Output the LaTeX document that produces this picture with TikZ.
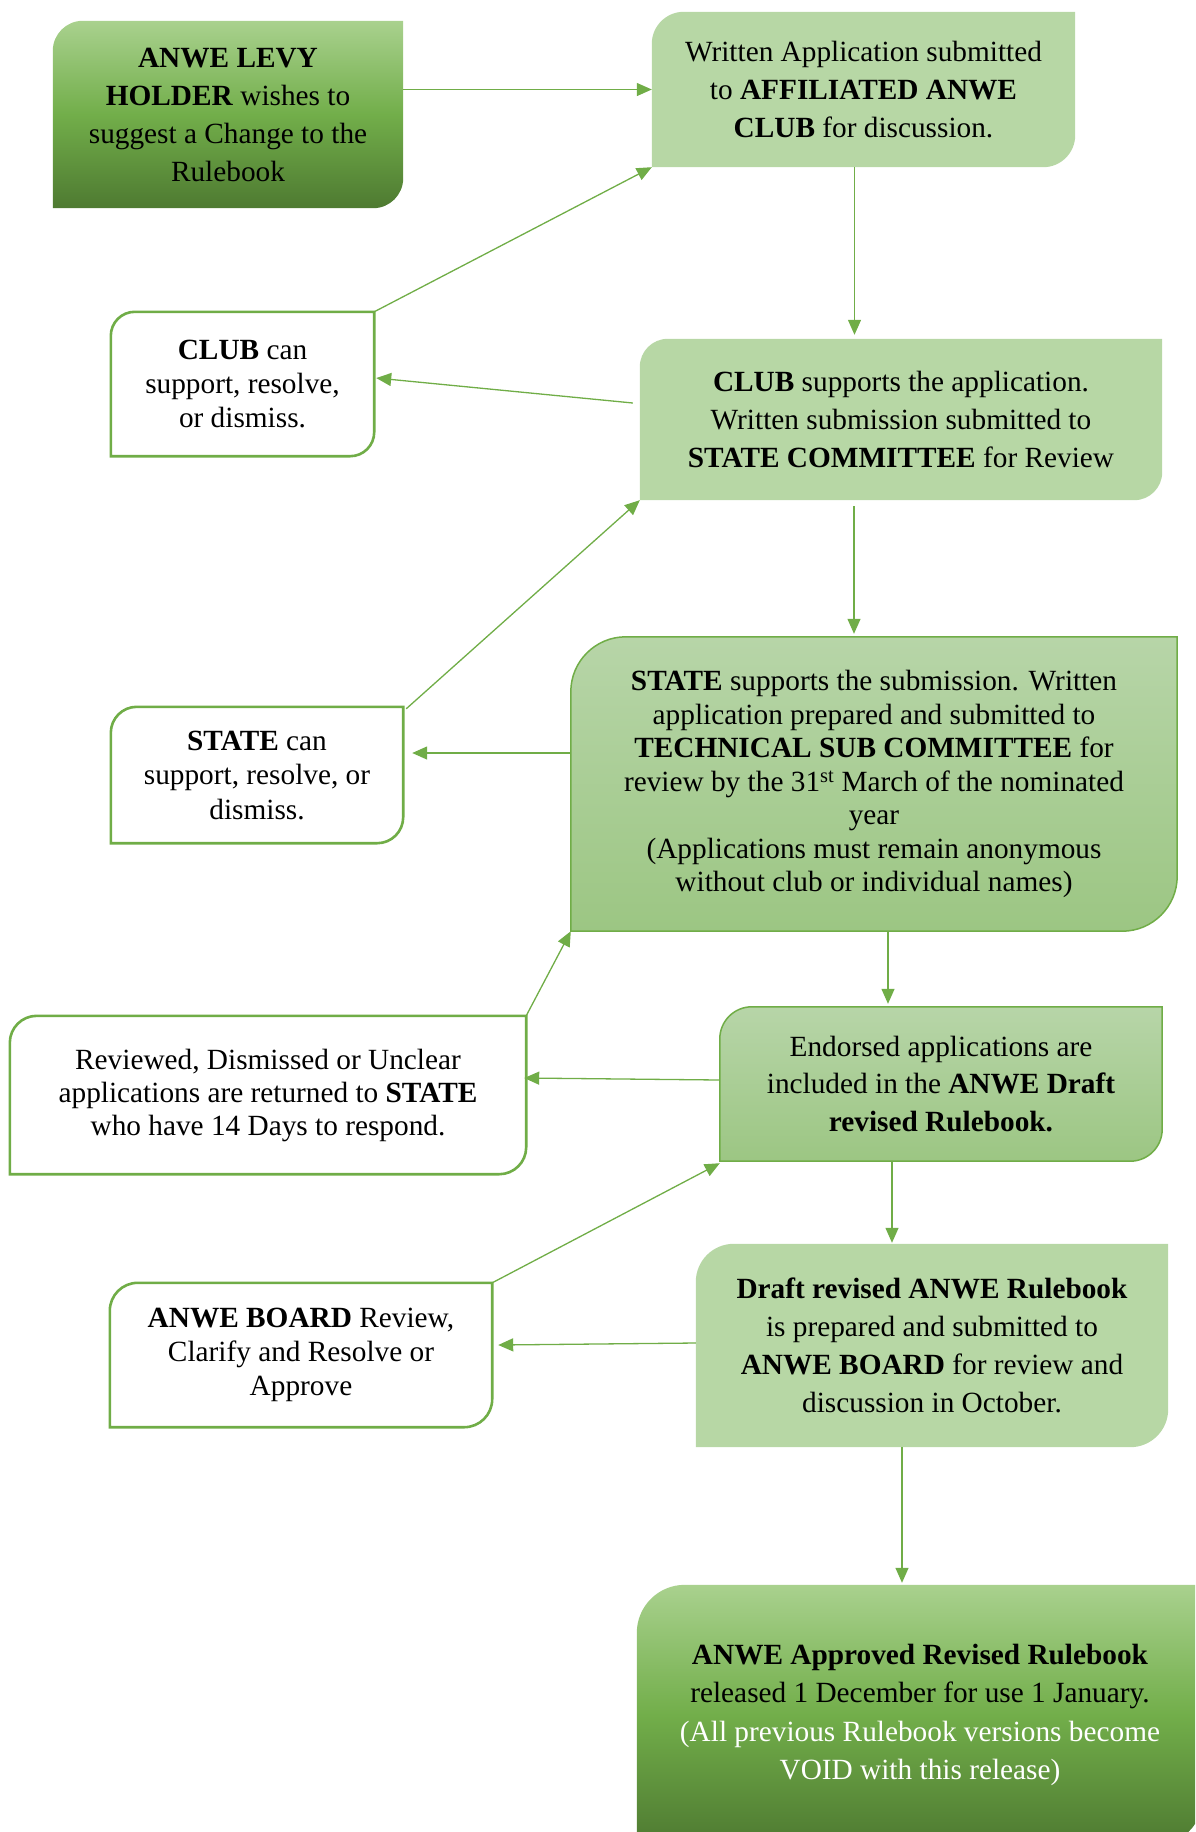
\documentclass[tikz,border=0pt]{standalone}
\usepackage{fontspec}
\setmainfont{Liberation Serif}
\usetikzlibrary{arrows.meta,calc,backgrounds}
\definecolor{ln}{HTML}{70AD47}
\definecolor{flat}{HTML}{B7D7A5}
\definecolor{dtop}{HTML}{A9D18E}
\definecolor{dmid}{HTML}{72AE4A}
\definecolor{dbot}{HTML}{4E7A31}
\definecolor{ltop}{HTML}{B7D5A8}
\definecolor{lbot}{HTML}{9CC683}
\newcommand\cutbox[3]{%
  \path[#3] ([yshift=-#2pt]#1.north west) arc[start angle=180,end angle=90,radius=#2pt]
    -- (#1.north east) -- ([yshift=#2pt]#1.south east)
    arc[start angle=0,end angle=-90,radius=#2pt] -- (#1.south west) -- cycle;}
\begin{document}
\begin{tikzpicture}[x=1pt,y=1pt,
  txt/.style={inner sep=0pt, align=center, font=\fontsize{29.3}{#1}\selectfont},
  darkg/.style={top color=dtop, bottom color=dbot, middle color=dmid},
  flatg/.style={fill=flat},
  lightg/.style={top color=ltop, bottom color=lbot, draw=ln, line width=1.5pt},
  wbox/.style={fill=white, draw=ln, line width=2.6pt},
  arr/.style={draw=ln, line width=1.3pt, -{Triangle[length=15pt,width=13pt]}}]
\useasboundingbox (0,0) rectangle (1195,-1832);

% nodes
\node[txt=38, minimum width=350pt, minimum height=187pt] (levy) at (228,-114.5)
  {\textbf{ANWE LEVY}\\ \textbf{HOLDER} wishes to\\ suggest a Change to the\\ Rulebook};
\node[txt=38, minimum width=423pt, minimum height=155pt] (written) at (863.5,-89.5)
  {Written Application submitted\\ to \textbf{AFFILIATED ANWE}\\ \textbf{CLUB} for discussion.};
\node[txt=34, minimum width=263pt, minimum height=144pt] (clubcan) at (242.5,-384)
  {\textbf{CLUB} can\\ support, resolve,\\ or dismiss.};
\node[txt=38, minimum width=522pt, minimum height=161pt] (clubsup) at (901,-419.5)
  {\textbf{CLUB} supports the application.\\ Written submission submitted to\\ \textbf{STATE COMMITTEE} for Review};
\node[txt=34.5, minimum width=292pt, minimum height=136pt] (statecan) at (257,-775)
  {\textbf{STATE} can\\ support, resolve, or\\ dismiss.};
\node[txt=33.5, minimum width=606pt, minimum height=294pt] (statesup) at (874,-784)
  {\textbf{STATE} supports the submission. Written\\ application prepared and submitted to\\
   \textbf{TECHNICAL SUB COMMITTEE} for\\ review by the 31\textsuperscript{st} March of the nominated\\
   year\\ (Applications must remain anonymous\\ without club or individual names)};
\node[txt=33, minimum width=516pt, minimum height=158pt] (reviewed) at (268,-1095)
  {Reviewed, Dismissed or Unclear\\ applications are returned to \textbf{STATE}\\ who have 14 Days to respond.};
\node[txt=37.5, minimum width=442pt, minimum height=154pt] (endorsed) at (941,-1084)
  {Endorsed applications are\\ included in the \textbf{ANWE Draft}\\ \textbf{revised Rulebook.}};
\node[txt=34, minimum width=382pt, minimum height=144pt] (board) at (301,-1355)
  {\textbf{ANWE BOARD} Review,\\ Clarify and Resolve or\\ Approve};
\node[txt=38, minimum width=472pt, minimum height=203pt] (draft) at (932,-1345.5)
  {\textbf{Draft revised ANWE Rulebook}\\ is prepared and submitted to\\ \textbf{ANWE BOARD} for review and\\ discussion in October.};
\node[txt=38.3, minimum width=566pt, minimum height=260pt] (approved) at (920,-1715)
  {\textbf{ANWE Approved Revised Rulebook}\\ released 1 December for use 1 January.\\
   \textcolor{white}{(All previous Rulebook versions become}\\ \textcolor{white}{VOID with this release)}};

% shapes
\begin{scope}[on background layer]
  \clip (0,0) rectangle (1195,-1832);
  \cutbox{levy}{30}{darkg}
  \cutbox{written}{32}{flatg}
  \cutbox{clubcan}{24}{wbox}
  \cutbox{clubsup}{28}{flatg}
  \cutbox{statecan}{26}{wbox}
  \cutbox{statesup}{55}{lightg}
  \cutbox{reviewed}{27}{wbox}
  \cutbox{endorsed}{32}{lightg}
  \cutbox{board}{28}{wbox}
  \cutbox{draft}{38}{flatg}
  \cutbox{approved}{48}{darkg}
\end{scope}

% connectors
\draw[arr] (levy.east |- written.west) -- (written.west);
\draw[arr] (clubcan.north east) -- (written.south west);
\draw[arr] ([xshift=-9pt]written.south) -- ($(written.south |- clubsup.north)+(-9,4)$);
\draw[arr] ($(clubsup.west)+(-7,16.5)$) -- ($(clubcan.east)+(2,6)$);
\draw[arr] ($(statecan.north east)+(3,-2)$) -- (clubsup.south west);
\draw[arr] ($(clubsup.south)+(-47,-6)$) -- ($(clubsup.south |- statesup.north)+(-47,3)$);
\coordinate (g1) at ($(statesup.west)+(0,31)$);
\draw[arr] (g1) -- ($(g1 -| statecan.east)+(9,0)$);
\draw[arr] (reviewed.north east) -- (statesup.south west);
\draw[arr] ($(statesup.south)+(14,0)$) -- ($(statesup.south |- endorsed.north)+(14,3)$);
\draw[arr] ($(endorsed.west)+(0,4)$) -- ($(reviewed.east)+(-2,17)$);
\draw[arr] (board.north east) -- ($(endorsed.south west)+(0,-2)$);
\draw[arr] ($(endorsed.south)+(-49,0)$) -- ($(endorsed.south |- draft.north)+(-49,1)$);
\draw[arr] ($(draft.west)+(0,2.5)$) -- ($(board.east)+(6,10)$);
\draw[arr] ($(draft.south)+(-30,0)$) -- ($(draft.south |- approved.north)+(-30,2)$);
\end{tikzpicture}
\end{document}
